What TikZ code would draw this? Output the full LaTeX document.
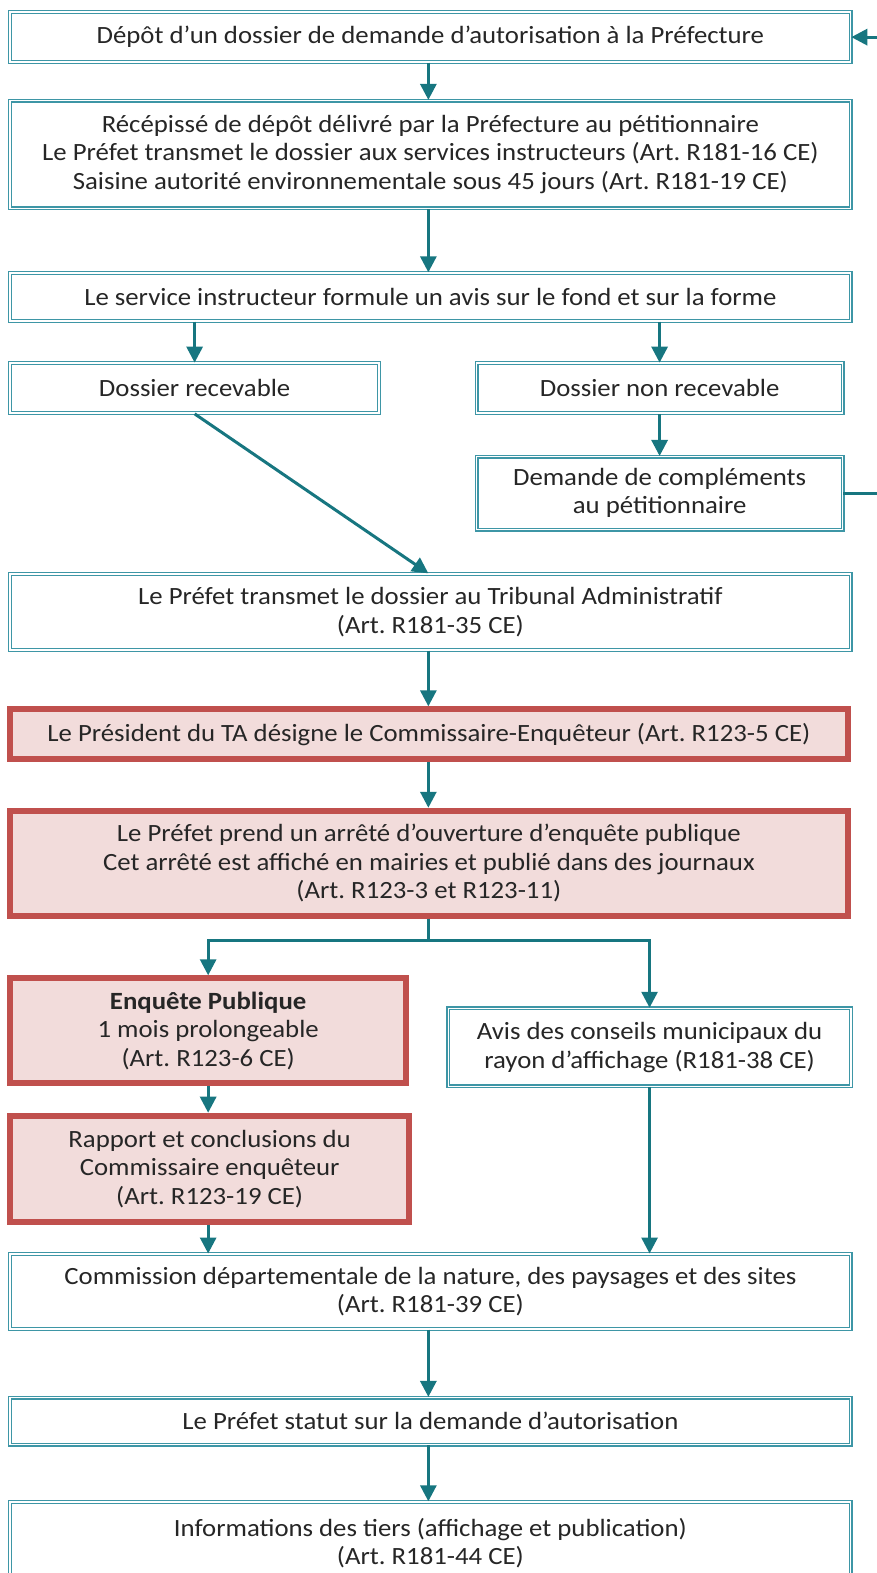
\documentclass[tikz,border=0pt]{standalone}
\usepackage{fontspec}
\setmainfont{Carlito}[FakeStretch=1.08]
\usetikzlibrary{arrows.meta}
\frenchspacing

\definecolor{boxteal}{RGB}{62,150,166}
\definecolor{arrowteal}{RGB}{23,118,128}
\definecolor{rosefill}{RGB}{242,220,219}
\definecolor{roseline}{RGB}{192,80,77}
\definecolor{textgray}{RGB}{38,38,38}

\begin{document}
\begin{tikzpicture}[x=0.5017pt,y=-0.5017pt,
   box/.style={draw=boxteal, double=white, line width=0.6pt, double distance=0.8pt,
      fill=white, align=center, inner sep=2pt, text=textgray,
      font=\fontsize{12.4}{14.2}\selectfont},
   redbox/.style={draw=roseline, line width=3pt, fill=rosefill, align=center,
      inner sep=2pt, text=textgray, font=\fontsize{12.4}{14.2}\selectfont},
   arr/.style={draw=arrowteal, line width=1.5pt,
      -{Triangle[width=8pt,length=8pt]}}]

   \path[use as bounding box, clip] (0,0) rectangle (874,1568);

   \node[box, minimum width=420.4pt, minimum height=25pt] (depot) at (429,37)
      {Dépôt d’un dossier de demande d’autorisation à la Préfecture};
   \node[box, minimum width=420.4pt, minimum height=54pt] (recepisse) at (429,154)
      {Récépissé de dépôt délivré par la Préfecture au pétitionnaire\\
       Le Préfet transmet le dossier aux services instructeurs (Art. R181-16 CE)\\
       Saisine autorité environnementale sous 45 jours (Art. R181-19 CE)};
   \node[box, minimum width=420.4pt, minimum height=24pt] (avis) at (429,296)
      {Le service instructeur formule un avis sur le fond et sur la forme};

   \node[box, minimum width=184.6pt, minimum height=25pt] (recevable) at (194,387)
      {Dossier recevable};
   \node[box, minimum width=183.1pt, minimum height=25pt] (nonrecevable) at (657.5,387)
      {Dossier non recevable};
   \node[box, minimum width=183.1pt, minimum height=36.5pt] (complements) at (657.5,491.5)
      {Demande de compléments\\au pétitionnaire};

   \node[box, minimum width=420.4pt, minimum height=38pt] (tribunal) at (429,610)
      {Le Préfet transmet le dossier au Tribunal Administratif\\(Art. R181-35 CE)};

   \node[redbox, minimum width=418.9pt, minimum height=25pt] (president) at (427.5,732)
      {Le Président du TA désigne le Commissaire-Enquêteur (Art. R123-5 CE)};
   \node[redbox, minimum width=418.9pt, minimum height=52.5pt] (arrete) at (427.5,860.5)
      {Le Préfet prend un arrêté d’ouverture d’enquête publique\\
       Cet arrêté est affiché en mairies et publié dans des journaux\\
       (Art. R123-3 et R123-11)};

   \node[redbox, minimum width=198.2pt, minimum height=52.5pt] (enquete) at (207.5,1027.5)
      {\textbf{Enquête Publique}\\1 mois prolongeable\\(Art. R123-6 CE)};
   \node[box, minimum width=201.2pt, minimum height=39pt] (conseils) at (647.5,1044)
      {Avis des conseils municipaux du\\rayon d’affichage (R181-38 CE)};
   \node[redbox, minimum width=199.7pt, minimum height=53pt] (rapport) at (209,1165)
      {Rapport et conclusions du\\Commissaire enquêteur\\(Art. R123-19 CE)};

   \node[box, minimum width=420.4pt, minimum height=37.5pt] (cdnps) at (429,1287.5)
      {Commission départementale de la nature, des paysages et des sites\\(Art. R181-39 CE)};
   \node[box, minimum width=420.4pt, minimum height=23.5pt] (statut) at (429,1416.5)
      {Le Préfet statut sur la demande d’autorisation};
   \node[box, minimum width=420.4pt, minimum height=41.5pt] (infos) at (429,1538.5)
      {Informations des tiers (affichage et publication)\\(Art. R181-44 CE)};

   \draw[arr] (depot.south -| 427,0) -- (recepisse.north -| 427,0);
   \draw[arr] (recepisse.south -| 427,0) -- (avis.north -| 427,0);

   \draw[arr] (recevable.north |- avis.south) -- (recevable.north);
   \draw[arr] (nonrecevable.north |- avis.south) -- (nonrecevable.north);
   \draw[arr] (nonrecevable.south) -- (complements.north);

   \draw[arr] (complements.east) -- ++(60,0) |- (depot.east);

   \draw[arr] (recevable.south) -- (tribunal.north -| 427,0);

   \draw[arr] (tribunal.south -| 427,0) -- (president.north -| 427,0);
   \draw[arr] (president.south -| 427,0) -- (arrete.north -| 427,0);

   \draw[arr] (arrete.south -| 427,0) -- ++(0,22) -| (enquete.north);
   \draw[arr] (arrete.south -| 427,0) -- ++(0,22) -| (conseils.north);

   \draw[arr] (enquete.south) -- (enquete.south |- rapport.north);
   \draw[arr] (rapport.south -| enquete.south) -- (cdnps.north -| enquete.south);
   \draw[arr] (conseils.south) -- (conseils.south |- cdnps.north);

   \draw[arr] (cdnps.south -| 427,0) -- (statut.north -| 427,0);
   \draw[arr] (statut.south -| 427,0) -- (infos.north -| 427,0);

\end{tikzpicture}
\end{document}
